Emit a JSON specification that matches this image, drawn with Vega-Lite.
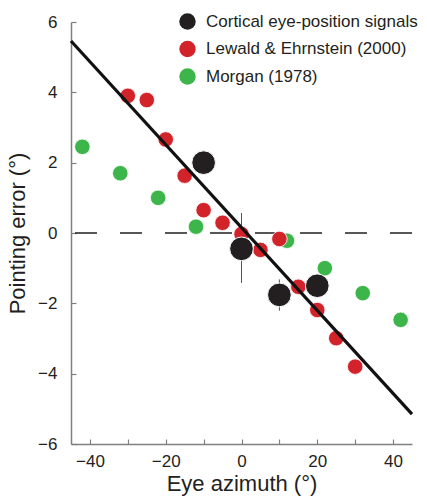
{
  "$schema": "https://vega.github.io/schema/vega-lite/v6.json",
  "autosize": {"type": "none"},
  "width": 341,
  "height": 422,
  "padding": {"left": 71, "top": 22, "right": 15, "bottom": 56},
  "background": "white",
  "config": {
    "view": {"stroke": null},
    "font": "Liberation Sans",
    "axis": {"grid": false, "domainColor": "#808080", "domainWidth": 1.5, "tickColor": "#808080", "tickWidth": 1.2, "labelColor": "#231f20", "titleColor": "#231f20", "labelFontSize": 17, "titleFontSize": 22, "titleFontWeight": "normal"}
  },
  "datasets": {
    "pts": [
      {"series": "Morgan (1978)", "azimuth": -42, "error": 2.45},
      {"series": "Morgan (1978)", "azimuth": -32, "error": 1.7},
      {"series": "Morgan (1978)", "azimuth": -22, "error": 1.0},
      {"series": "Morgan (1978)", "azimuth": -12, "error": 0.18},
      {"series": "Morgan (1978)", "azimuth": 12, "error": -0.22},
      {"series": "Morgan (1978)", "azimuth": 22, "error": -1.0},
      {"series": "Morgan (1978)", "azimuth": 32, "error": -1.71},
      {"series": "Morgan (1978)", "azimuth": 42, "error": -2.47},
      {"series": "Lewald & Ehrnstein (2000)", "azimuth": -30, "error": 3.9},
      {"series": "Lewald & Ehrnstein (2000)", "azimuth": -25, "error": 3.78},
      {"series": "Lewald & Ehrnstein (2000)", "azimuth": -20, "error": 2.66},
      {"series": "Lewald & Ehrnstein (2000)", "azimuth": -15, "error": 1.63},
      {"series": "Lewald & Ehrnstein (2000)", "azimuth": -10, "error": 0.65},
      {"series": "Lewald & Ehrnstein (2000)", "azimuth": -5, "error": 0.29},
      {"series": "Lewald & Ehrnstein (2000)", "azimuth": 0, "error": -0.03},
      {"series": "Lewald & Ehrnstein (2000)", "azimuth": 5, "error": -0.48},
      {"series": "Lewald & Ehrnstein (2000)", "azimuth": 10, "error": -0.17},
      {"series": "Lewald & Ehrnstein (2000)", "azimuth": 15, "error": -1.53},
      {"series": "Lewald & Ehrnstein (2000)", "azimuth": 20, "error": -2.19},
      {"series": "Lewald & Ehrnstein (2000)", "azimuth": 25, "error": -2.99},
      {"series": "Lewald & Ehrnstein (2000)", "azimuth": 30, "error": -3.8}
    ],
    "cortical": [
      {"series": "Cortical eye-position signals", "azimuth": -10, "error": 2.0, "lo": 1.8, "hi": 2.2},
      {"series": "Cortical eye-position signals", "azimuth": 0, "error": -0.45, "lo": -1.42, "hi": 0.57},
      {"series": "Cortical eye-position signals", "azimuth": 10, "error": -1.76, "lo": -2.21, "hi": -1.32},
      {"series": "Cortical eye-position signals", "azimuth": 20, "error": -1.5, "lo": -1.7, "hi": -1.3}
    ],
    "fit": [
      {"azimuth": -45, "error": 5.46},
      {"azimuth": 45, "error": -5.15}
    ]
  },
  "layer": [
    {
      "data": {"values": [{"zero": 0}]},
      "mark": {"type": "rule", "color": "#231f20", "strokeWidth": 1.6, "strokeDash": [22, 23]},
      "encoding": {"y": {"field": "zero", "type": "quantitative", "scale": {"domain": [-6, 6]}}}
    },
    {
      "data": {"name": "cortical"},
      "mark": {"type": "rule", "color": "#555555", "strokeWidth": 1},
      "encoding": {
        "x": {"field": "azimuth", "type": "quantitative"},
        "y": {"field": "lo", "type": "quantitative"},
        "y2": {"field": "hi"}
      }
    },
    {
      "data": {"name": "pts"},
      "mark": {"type": "circle", "size": 240, "opacity": 1, "stroke": "white", "strokeWidth": 0.8},
      "encoding": {
        "x": {"field": "azimuth", "type": "quantitative", "scale": {"domain": [-45, 45], "nice": false, "zero": false},
          "axis": {"title": "Eye azimuth (°)", "values": [-40, -30, -20, -10, 0, 10, 20, 30, 40], "labelExpr": "datum.value % 20 === 0 ? datum.label : ''", "tickSize": -5, "labelPadding": 14, "titlePadding": 4}},
        "y": {"field": "error", "type": "quantitative", "scale": {"domain": [-6, 6], "nice": false, "zero": false},
          "axis": {"title": "Pointing error (°)", "values": [-6, -4, -2, 0, 2, 4, 6], "tickSize": -5, "labelPadding": 19, "titlePadding": 8}},
        "color": {"field": "series", "type": "nominal",
          "scale": {"domain": ["Cortical eye-position signals", "Lewald & Ehrnstein (2000)", "Morgan (1978)"], "range": ["#231f20", "#d2232a", "#3cb64a"]},
          "legend": {"title": null, "orient": "none", "legendX": 108, "legendY": -9, "symbolType": "circle", "symbolSize": 270, "symbolStrokeWidth": 0, "symbolOpacity": 1, "labelFontSize": 17, "labelColor": "#231f20", "labelOffset": 10, "rowPadding": 9.5, "labelLimit": 300}
        }
      }
    },
    {
      "data": {"name": "fit"},
      "mark": {"type": "line", "color": "#111111", "strokeWidth": 3.2},
      "encoding": {
        "x": {"field": "azimuth", "type": "quantitative"},
        "y": {"field": "error", "type": "quantitative"}
      }
    },
    {
      "data": {"name": "cortical"},
      "mark": {"type": "circle", "size": 560, "opacity": 1, "stroke": "white", "strokeWidth": 1},
      "encoding": {
        "x": {"field": "azimuth", "type": "quantitative"},
        "y": {"field": "error", "type": "quantitative"},
        "color": {"field": "series", "type": "nominal"}
      }
    }
  ]
}
